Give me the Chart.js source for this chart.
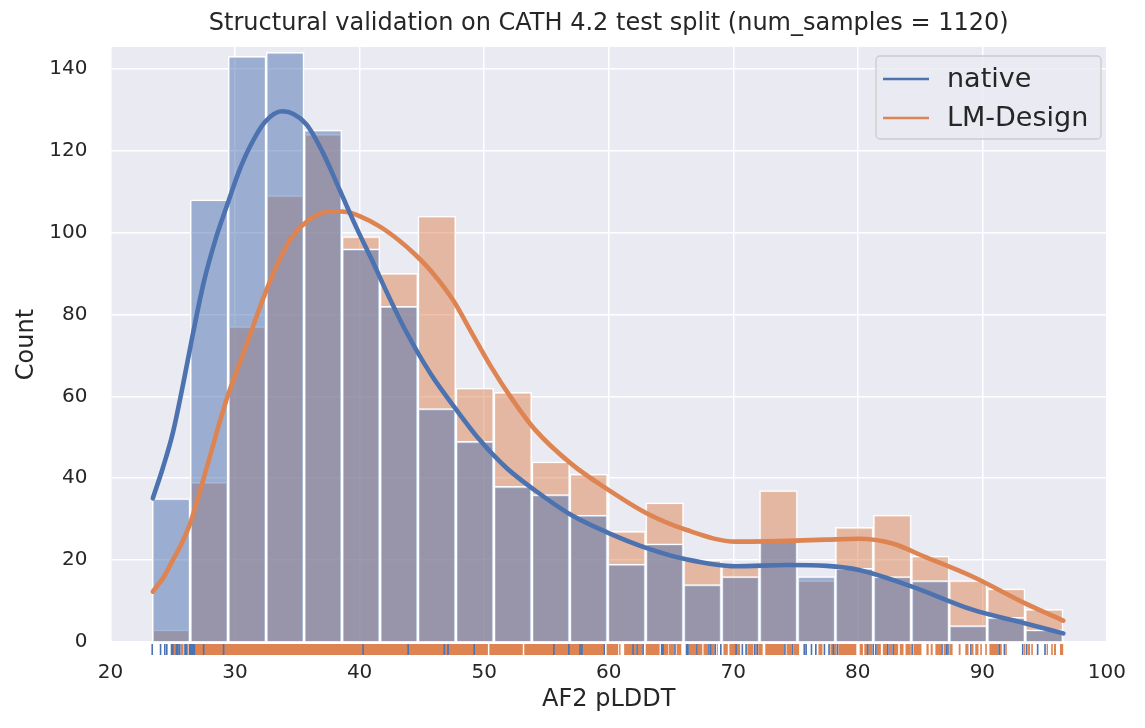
<!DOCTYPE html>
<html>
<head>
<meta charset="utf-8">
<title>AF2 pLDDT histogram</title>
<script src="https://cdn.jsdelivr.net/npm/chart.js@4.4.1/dist/chart.umd.min.js"></script>
<style>
    html, body { margin: 0; padding: 0; background: #ffffff; }
    #histChart { display: block; }
</style>
</head>
<body>
<canvas id="histChart" width="1145" height="728"></canvas>
<script>
// histogram bins (centres of the 24 bins, ~3.05 wide)
var binCenters = [24.87, 27.92, 30.97, 34.02, 37.06, 40.11, 43.16, 46.20, 49.25, 52.30, 55.35, 58.39,
                  61.44, 64.49, 67.53, 70.58, 73.63, 76.68, 79.72, 82.77, 85.82, 88.86, 91.91, 94.96];

var chartTitle = "Structural validation on CATH 4.2 test split (num_samples = 1120)";
var seriesNames = ["native", "LM-Design"];
var nativeCounts = [35, 108, 143, 144, 125, 96, 82, 57, 49, 38, 36, 31, 19, 24, 14, 16, 25, 16, 18, 16, 15, 4, 6, 3];
var designCounts = [3, 39, 77, 109, 124, 99, 90, 104, 62, 61, 44, 41, 27, 34, 20, 19, 37, 15, 28, 31, 21, 15, 13, 8];

// kde curves
var nativeKdeX = [23.4, 24.2, 25.0, 25.8, 26.6, 27.5, 28.5, 29.4, 30.3, 31.2, 32.4, 33.8, 35.7, 37.0, 38.4,
                  39.7, 41.0, 42.4, 43.7, 45.7, 47.7, 49.6, 51.8, 54.1, 57.0, 60.0, 63.0, 66.2, 70.2, 74.4, 77.5,
                  80.1, 84.3, 89.2, 93.4, 96.5];
var nativeKdeY = [35.1, 42.5, 51, 62.5, 75, 88, 99, 107, 114.8, 121, 127, 129.6, 126.5, 119.8, 110.4,
                  101.5, 93.2, 84, 76, 65.5, 57, 49.5, 42.5, 37, 31, 26.6, 23, 20.2, 18.5, 18.8, 18.6,
                  17.6, 13.6, 7.9, 4.6, 2.1];
var designKdeX = [23.4, 24.3, 25.0, 25.7, 26.4, 27.2, 28.0, 28.7, 29.4, 30.3, 31.2, 32.4, 33.6, 34.6, 35.7, 36.7,
                  37.8, 39.0, 40.0, 41.6, 43.2, 44.5, 45.9, 47.5, 49.0, 50.5, 52.2, 54.1, 57.0, 60.0, 63.0, 66.2,
                  70.2, 74.4, 77.5, 80.1, 82.7, 85.4, 89.2, 93.4, 96.5];
var designKdeY = [12.3, 16, 20, 24, 29, 37, 45.5, 53, 60, 67.5, 75, 85, 93.5, 99, 102.5, 104.4,
                  105.2, 105, 104, 101.5, 98, 94.5, 90, 83.5, 75.5, 67.5, 59.5, 51.8, 43.5, 37.1, 31.5, 27.4,
                  24.5, 24.7, 25, 25.2, 24.1, 20.8, 16, 9.5, 5.2];

// rug marks: single ticks and solid runs of ticks
var nativeRugTicks = [23.35, 24.02, 24.36, 24.52, 24.9, 25.02, 25.3, 25.42, 25.56, 25.98, 26.08, 27.48, 29.08, 40.28,
                      43.9, 46.8, 47.1, 49.2, 55.6, 56.8, 57.7, 57.85, 59.64, 61.96, 62.28, 62.76, 64.25, 64.37,
                      65.32, 66.25, 66.37, 67.08, 68.05, 68.2, 68.55, 69.0, 70.23, 70.73, 71.03, 71.72, 71.93,
                      74.15, 74.73, 75.7, 75.85, 76.28, 76.63, 77.32, 77.69, 78.04, 78.36, 80.79, 81.24, 81.45,
                      82.41, 82.84, 84.36, 86.76, 87.1, 87.24, 89.08, 91.35, 91.77, 93.24, 93.56, 94.44, 95.03];
var nativeRugBands = [[26.3, 26.84]];
var designRugTicks = [25.12, 25.22, 25.7, 25.8, 26.2, 93.99, 95.59];
var designRugBands = [[26.84, 50.3], [50.42, 53.1], [53.22, 59.6], [59.83, 60.76], [60.84, 60.95], [61.24, 61.96],
                      [62.01, 62.23], [62.33, 62.71], [62.97, 64.09], [64.44, 64.76], [64.81, 65.24], [65.45, 65.83],
                      [66.44, 67.03], [67.13, 67.51], [67.61, 67.99], [68.25, 68.49], [68.68, 68.76], [69.21, 69.56],
                      [69.69, 70.23], [70.28, 70.55], [71.13, 71.61], [71.77, 71.88], [72.01, 72.36], [72.57, 74.09],
                      [74.28, 74.65], [74.81, 75.29], [76.84, 77.16], [77.8, 78.28], [78.44, 79.88], [80.15, 80.41],
                      [80.52, 80.73], [80.84, 81.16], [81.51, 81.85], [82.01, 82.36], [82.49, 82.76], [82.89, 83.24],
                      [83.37, 83.67], [83.83, 84.25], [84.47, 85.11], [85.51, 85.69], [85.85, 86.01], [86.23, 86.68],
                      [86.89, 87.03], [87.35, 87.61], [88.1, 88.25], [88.63, 88.89], [89.16, 89.29], [89.43, 89.69],
                      [89.83, 89.96], [90.23, 90.36], [90.57, 91.29], [91.37, 91.56], [91.85, 91.96], [93.35, 93.45],
                      [93.67, 93.83], [95.16, 95.27], [95.75, 95.91], [96.23, 96.49]];

var xTicks = [20, 30, 40, 50, 60, 70, 80, 90, 100];
var yTicks = [0, 20, 40, 60, 80, 100, 120, 140];

var BLUE = "#4c72b0";
var ORANGE = "#dd8452";
var TEXT = "#262626";
var FONT = "'DejaVu Sans', sans-serif";
var RUG_Y = -1.83;
var RUG_HALF = 0.065; // half width of one rug stroke, in data units

function pairs(xs, ys) {
    var out = [];
    for (var i = 0; i < xs.length; i++) out.push({x: xs[i], y: ys[i]});
    return out;
}

// every rug run becomes a short thick segment below the axis, broken by nulls
function rugData(bands, ticks) {
    var runs = bands.concat(ticks.map(function (v) { return [v - RUG_HALF, v + RUG_HALF]; }));
    runs.sort(function (a, b) { return a[0] - b[0]; });
    var out = [];
    runs.forEach(function (r) {
        out.push({x: r[0], y: RUG_Y});
        out.push({x: r[1], y: RUG_Y});
        out.push({x: r[1], y: null});
    });
    return out;
}

var plotBackground = {
    id: "plotBackground",
    beforeDraw: function (chart) {
        var a = chart.chartArea, ctx = chart.ctx;
        ctx.save();
        ctx.fillStyle = "#eaeaf2";
        ctx.fillRect(a.left, a.top, a.right - a.left, a.bottom - a.top);
        ctx.restore();
    }
};

// title centred over the plot area, like matplotlib does
var areaTitle = {
    id: "areaTitle",
    afterDraw: function (chart) {
        var a = chart.chartArea, ctx = chart.ctx;
        ctx.save();
        ctx.font = "24px " + FONT;
        ctx.fillStyle = TEXT;
        ctx.textAlign = "center";
        ctx.textBaseline = "middle";
        ctx.fillText(chartTitle, (a.left + a.right) / 2, 24);
        ctx.restore();
    }
};

var boxLegend = {
    id: "boxLegend",
    afterDraw: function (chart) {
        var ctx = chart.ctx;
        var colors = [BLUE, ORANGE];
        ctx.save();
        ctx.beginPath();
        ctx.roundRect(876, 56, 225, 83, 4);
        ctx.fillStyle = "rgba(234,234,242,0.8)";
        ctx.fill();
        ctx.lineWidth = 1.3;
        ctx.strokeStyle = "#cccccc";
        ctx.stroke();
        ctx.font = "27px " + FONT;
        ctx.textBaseline = "middle";
        ctx.fillStyle = TEXT;
        seriesNames.forEach(function (name, i) {
            var y = 79 + i * 39;
            ctx.beginPath();
            ctx.moveTo(883, y);
            ctx.lineTo(929, y);
            ctx.lineWidth = 2.6;
            ctx.strokeStyle = colors[i];
            ctx.stroke();
            ctx.fillText(name, 947, y + 1);
        });
        ctx.restore();
    }
};

var ctx = document.getElementById("histChart");

var histChart = new Chart(ctx, {
    type: "bar",
    data: {
        datasets: [
            {
                type: "bar",
                label: seriesNames[1],
                data: pairs(binCenters, designCounts),
                backgroundColor: "rgba(221,132,82,0.5)",
                borderColor: "#ffffff",
                borderWidth: 1.5,
                barPercentage: 1,
                categoryPercentage: 1,
                grouped: false,
                order: 20
            },
            {
                type: "bar",
                label: seriesNames[0],
                data: pairs(binCenters, nativeCounts),
                backgroundColor: "rgba(76,114,176,0.5)",
                borderColor: "#ffffff",
                borderWidth: 1.5,
                barPercentage: 1,
                categoryPercentage: 1,
                grouped: false,
                order: 19
            },
            {
                type: "line",
                label: seriesNames[1] + " kde",
                data: pairs(designKdeX, designKdeY),
                borderColor: ORANGE,
                borderWidth: 4.6,
                pointRadius: 0,
                cubicInterpolationMode: "monotone",
                borderCapStyle: "round",
                order: 4
            },
            {
                type: "line",
                label: seriesNames[0] + " kde",
                data: pairs(nativeKdeX, nativeKdeY),
                borderColor: BLUE,
                borderWidth: 4.6,
                pointRadius: 0,
                cubicInterpolationMode: "monotone",
                borderCapStyle: "round",
                order: 3
            },
            {
                type: "line",
                label: "LM-Design rug",
                data: rugData(designRugBands, designRugTicks),
                borderColor: ORANGE,
                borderWidth: 11,
                pointRadius: 0,
                spanGaps: false,
                clip: false,
                order: 12
            },
            {
                type: "line",
                label: "native rug",
                data: rugData(nativeRugBands, nativeRugTicks),
                borderColor: BLUE,
                borderWidth: 11,
                pointRadius: 0,
                spanGaps: false,
                clip: false,
                order: 10
            }
        ]
    },
    options: {
        responsive: false,
        animation: false,
        devicePixelRatio: 1,
        layout: {
            autoPadding: false,
            padding: {left: 12.6, right: 34.5, top: 47, bottom: 13.7}
        },
        plugins: {
            legend: {display: false},
            tooltip: {enabled: false},
            title: {display: false}
        },
        scales: {
            x: {
                type: "linear",
                min: 20,
                max: 100,
                offset: false,
                afterBuildTicks: function (scale) {
                    scale.ticks = xTicks.map(function (v) { return {value: v}; });
                },
                afterFit: function (scale) { scale.height = 72.3; },
                grid: {color: "#ffffff", lineWidth: 1.5, drawTicks: false, offset: false},
                border: {display: false},
                ticks: {color: TEXT, font: {family: FONT, size: 20}, padding: 19, maxRotation: 0},
                title: {
                    display: true,
                    text: "AF2 pLDDT",
                    color: TEXT,
                    font: {family: FONT, size: 24},
                    padding: {top: 3, bottom: 0}
                }
            },
            y: {
                type: "linear",
                min: 0,
                max: 145.3,
                afterBuildTicks: function (scale) {
                    scale.ticks = yTicks.map(function (v) { return {value: v}; });
                },
                afterFit: function (scale) { scale.width = 97.9; },
                grid: {color: "#ffffff", lineWidth: 1.5, drawTicks: false},
                border: {display: false},
                ticks: {color: TEXT, font: {family: FONT, size: 20}, padding: 23},
                title: {
                    display: true,
                    text: "Count",
                    color: TEXT,
                    font: {family: FONT, size: 24},
                    padding: {top: 0, bottom: 8.1}
                }
            }
        }
    },
    plugins: [plotBackground, areaTitle, boxLegend]
});
</script>
</body>
</html>
